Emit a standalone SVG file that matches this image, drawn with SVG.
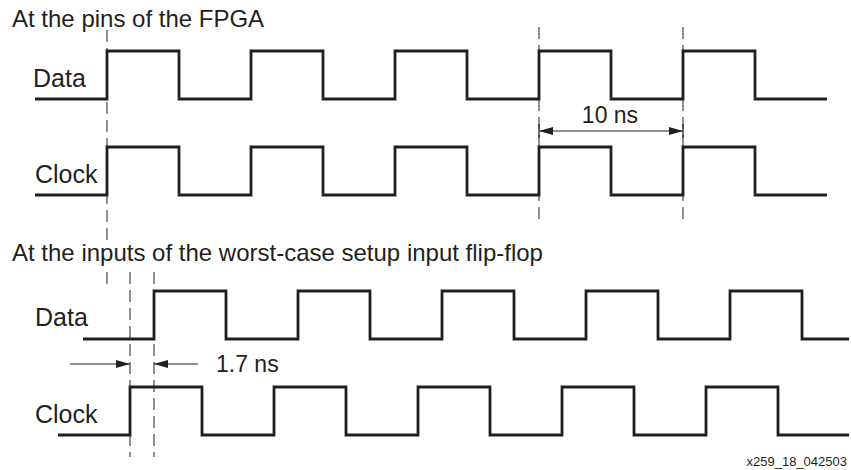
<svg xmlns="http://www.w3.org/2000/svg" width="851" height="470" viewBox="0 0 851 470">
<style>
text{font-family:"Liberation Sans",Arial,sans-serif;fill:#231f20}
.title{font-size:24px}
.lbl{font-size:25px}
.ann{font-size:23px}
.foot{font-size:13px}
.wave{fill:none;stroke:#231f20;stroke-width:2.8;stroke-linejoin:miter;stroke-linecap:butt}
.dash{fill:none;stroke:#231f20;stroke-width:1;stroke-dasharray:12 6}
.arr{fill:none;stroke:#231f20;stroke-width:1.2}
</style>
<defs>
<marker id="ah" viewBox="0 0 14 8" refX="14" refY="4" markerWidth="14" markerHeight="8" markerUnits="userSpaceOnUse" orient="auto-start-reverse">
<path d="M0,0 L14,4 L0,8 Z" fill="#231f20"/>
</marker>
</defs>
<rect width="851" height="470" fill="#fff"/>
<g id="title-pins"><text class="title" x="12" y="27">At the pins of the FPGA</text></g>
<g id="pins-data">
<text class="lbl" x="33" y="87">Data</text>
<path class="wave" d="M35,99 H107 V51 H179 V99 H251 V51 H323 V99 H395 V51 H467 V99 H539 V51 H611 V99 H683 V51 H755 V99 H827"/>
</g>
<g id="pins-clock">
<text class="lbl" x="35" y="183">Clock</text>
<path class="wave" d="M35,195 H107 V147 H179 V195 H251 V147 H323 V195 H395 V147 H467 V195 H539 V147 H611 V195 H683 V147 H755 V195 H827"/>
</g>
<g id="title-inputs"><text class="title" x="12" y="261">At the inputs of the worst-case setup input flip-flop</text></g>
<g id="ff-data">
<text class="lbl" x="35" y="326">Data</text>
<path class="wave" d="M83,339 H154 V291 H226 V339 H298 V291 H370 V339 H442 V291 H514 V339 H586 V291 H658 V339 H730 V291 H802 V339 H849"/>
</g>
<g id="ff-clock">
<text class="lbl" x="35" y="423">Clock</text>
<path class="wave" d="M58,435 H130 V387 H202 V435 H274 V387 H346 V435 H418 V387 H490 V435 H562 V387 H634 V435 H706 V387 H778 V435 H849"/>
</g>
<g id="connectors">
<line class="dash" x1="107" y1="30" x2="107" y2="240"/>
<line class="dash" x1="107" y1="272" x2="107" y2="288"/>
<line class="dash" x1="130" y1="272" x2="130" y2="457"/>
<line class="dash" x1="154" y1="272" x2="154" y2="457"/>
<line class="dash" x1="539" y1="27" x2="539" y2="220"/>
<line class="dash" x1="683" y1="27" x2="683" y2="220"/>
<line class="arr" x1="539" y1="131" x2="683" y2="131" marker-start="url(#ah)" marker-end="url(#ah)"/>
<line class="arr" x1="539" y1="124" x2="539" y2="138"/>
<line class="arr" x1="683" y1="124" x2="683" y2="138"/>
<line class="arr" x1="70" y1="364" x2="130" y2="364" marker-end="url(#ah)"/>
<line class="arr" x1="198" y1="364" x2="154" y2="364" marker-end="url(#ah)"/>
</g>
<g id="label-10ns"><text class="ann" x="610" y="123" text-anchor="middle">10 ns</text></g>
<g id="label-17ns"><text class="ann" x="216" y="372">1.7 ns</text></g>
<g id="footer"><text class="foot" x="847" y="466" text-anchor="end">x259_18_042503</text></g>
</svg>
